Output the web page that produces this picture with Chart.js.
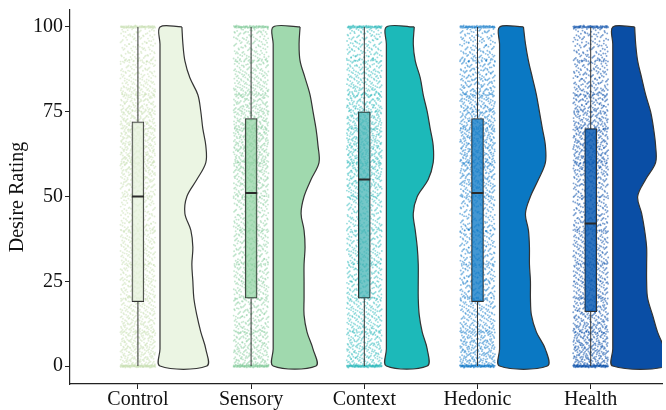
<!DOCTYPE html>
<html>
<head>
<meta charset="utf-8">
<script src="https://cdn.jsdelivr.net/npm/chart.js@4.4.0/dist/chart.umd.min.js"></script>
<style>
  html, body { margin: 0; padding: 0; background: #fff; }
  #wrap { width: 666px; height: 410px; }
</style>
</head>
<body>
<div id="wrap"><canvas id="myChart" width="666" height="410"></canvas></div>
<script>
var categories = ["Control", "Sensory", "Context", "Hedonic", "Health"];
var yTicks = [0, 25, 50, 75, 100];

// boxplot numbers
var whiskerLow = [0, 0, 0, 0, 0];
var q1 = [19, 20, 20, 19, 16];
var median = [50, 51, 55, 51, 42];
var q3 = [72, 73, 75, 73, 70];
var whiskerHigh = [100, 100, 100, 100, 100];

// half-violin width (relative density) at ratings 0, 5, 10 ... 100
var levels = [0, 5, 10, 15, 20, 25, 30, 35, 40, 45, 50, 55, 60, 65, 70, 75, 80, 85, 90, 95, 100];
var densControl = [0.94, 0.92, 0.82, 0.74, 0.68, 0.66, 0.64, 0.66, 0.62, 0.50, 0.54, 0.74, 0.92, 0.92, 0.86, 0.82, 0.76, 0.60, 0.50, 0.46, 0.44];
var densSensory = [0.86, 0.80, 0.68, 0.62, 0.62, 0.62, 0.62, 0.64, 0.62, 0.56, 0.62, 0.76, 0.92, 0.90, 0.86, 0.80, 0.74, 0.64, 0.54, 0.52, 0.54];
var densContext = [0.82, 0.82, 0.72, 0.66, 0.64, 0.64, 0.64, 0.62, 0.58, 0.54, 0.62, 0.84, 0.94, 0.94, 0.88, 0.82, 0.74, 0.68, 0.58, 0.54, 0.56];
var densHedonic = [0.96, 0.92, 0.74, 0.64, 0.62, 0.62, 0.60, 0.60, 0.58, 0.52, 0.62, 0.78, 0.92, 0.92, 0.86, 0.80, 0.74, 0.66, 0.58, 0.52, 0.48];
var densHealth = [1.10, 1.04, 0.90, 0.80, 0.70, 0.68, 0.68, 0.68, 0.64, 0.58, 0.50, 0.66, 0.86, 0.86, 0.82, 0.76, 0.66, 0.58, 0.50, 0.46, 0.44];

// ratings where the raw points pile up (slider round numbers)
var stripeValues = [0, 10, 20, 25, 30, 40, 50, 60, 70, 75, 80, 90, 100];
var stripeExtra = [80, 12, 12, 6, 12, 12, 12, 12, 12, 6, 12, 12, 60];

var densities = [densControl, densSensory, densContext, densHedonic, densHealth];
var violinColors = ['#ebf5e3', '#a0d9ae', '#1cb9b9', '#0a78c3', '#0a4ea5'];
var boxColors = ['rgba(230,242,220,0.75)', 'rgba(140,208,158,0.7)', 'rgba(70,180,182,0.75)', 'rgba(20,125,200,0.8)', 'rgba(10,90,178,0.85)'];
var pointColors = ['rgba(200,224,178,0.5)', 'rgba(125,200,148,0.45)', 'rgba(28,180,182,0.45)', 'rgba(10,118,198,0.48)', 'rgba(10,78,168,0.52)'];

var violinGap = 0.195;    // violin starts this far right of the category
var violinScale = 0.44;   // x units per unit density
var boxHalf = 0.053;
var jitterHalf = 0.155;

// van der Corput / Halton fraction, used to spread the points evenly
function halton(n, b) {
  var f = 1, r = 0;
  while (n > 0) { f = f / b; r += f * (n % b); n = Math.floor(n / b); }
  return r;
}

var datasets = [];

// half violins as closed shapes
densities.forEach(function (d, i) {
  var base = i + 1 + violinGap;
  var pts = [];
  for (var k = d.length - 1; k >= 0; k--) pts.push({ x: base + d[k] * violinScale, y: levels[k] });
  for (var k = 0; k < d.length; k++) pts.push({ x: base, y: levels[k] });
  pts.push({ x: base + d[d.length - 1] * violinScale, y: levels[d.length - 1] });
  datasets.push({
    type: 'line',
    data: pts,
    borderColor: '#333',
    borderWidth: 1.2,
    backgroundColor: violinColors[i],
    fill: 'shape',
    tension: 0.35,
    pointRadius: 0,
    order: 4
  });
});

// raw ratings cloud, counts follow the violin densities, spread sideways
densities.forEach(function (d, i) {
  var c = i + 1, n = 17 + i * 1500, pts = [];
  function add(y, ySpread) {
    n++;
    var jx = (halton(n, 2) - 0.5) * 2 * jitterHalf;
    var jy = (halton(n, 3) - 0.5) * ySpread;
    pts.push({ x: c + jx, y: y + jy });
  }
  for (var r = 0; r <= 100; r++) {
    var cnt = Math.round(d[Math.round(r / 5)] * 24);
    for (var j = 0; j < cnt; j++) add(r, 1);
  }
  stripeValues.forEach(function (v, s) {
    for (var j = 0; j < stripeExtra[s]; j++) add(v, 0.6);
  });
  datasets.push({
    type: 'scatter',
    data: pts,
    backgroundColor: pointColors[i],
    borderWidth: 0,
    pointRadius: 0.95,
    order: 3
  });
});

// whiskers
var whiskerPts = [];
categories.forEach(function (c, i) {
  whiskerPts.push({ x: i + 1, y: whiskerLow[i] }, { x: i + 1, y: q1[i] }, { x: i + 1, y: null });
  whiskerPts.push({ x: i + 1, y: q3[i] }, { x: i + 1, y: whiskerHigh[i] }, { x: i + 1, y: null });
});
datasets.push({
  type: 'line',
  data: whiskerPts,
  borderColor: '#333',
  borderWidth: 1,
  pointRadius: 0,
  fill: false,
  order: 2
});

// boxes
datasets.push({
  type: 'bar',
  data: categories.map(function (c, i) { return { x: i + 1, y: [q1[i], q3[i]] }; }),
  backgroundColor: boxColors,
  borderColor: '#333',
  borderWidth: 1,
  borderSkipped: false,
  barThickness: 12,
  grouped: false,
  order: 1
});

// medians
var medianPts = [];
categories.forEach(function (c, i) {
  medianPts.push({ x: i + 1 - boxHalf, y: median[i] }, { x: i + 1 + boxHalf, y: median[i] }, { x: i + 1, y: null });
});
datasets.push({
  type: 'line',
  data: medianPts,
  borderColor: '#2a2a2a',
  borderWidth: 2,
  pointRadius: 0,
  fill: false,
  order: 0
});

var font = { family: "'Liberation Serif', 'DejaVu Serif', serif", size: 20 };

var ctx = document.getElementById("myChart").getContext("2d");
var myChart = new Chart(ctx, {
  type: 'line',
  data: { datasets: datasets },
  options: {
    responsive: false,
    animation: false,
    events: [],
    layout: { padding: { top: 0, right: 0, left: 0, bottom: 0 } },
    plugins: { legend: { display: false }, tooltip: { enabled: false } },
    scales: {
      x: {
        type: 'linear',
        offset: false,
        min: 0.4,
        max: 5.63,
        afterBuildTicks: function (s) { s.ticks = categories.map(function (c, i) { return { value: i + 1 }; }); },
        afterFit: function (s) { s.height = 26; },
        grid: { display: true, offset: false, drawOnChartArea: false, tickLength: 5, color: '#222', tickWidth: 1 },
        border: { display: true, color: '#222', width: 1.2 },
        ticks: {
          autoSkip: false, maxRotation: 0, padding: -1, color: '#111',
          font: font,
          callback: function (v) { return categories[v - 1]; }
        }
      },
      y: {
        type: 'linear',
        min: -5.3,
        max: 105,
        afterBuildTicks: function (s) { s.ticks = yTicks.map(function (v) { return { value: v }; }); },
        afterFit: function (s) { s.width = 70; },
        grid: { display: true, drawOnChartArea: false, tickLength: 5, color: '#222', tickWidth: 1 },
        border: { display: true, color: '#222', width: 1.2 },
        ticks: { padding: 2, color: '#111', font: { family: font.family, size: 20, lineHeight: 0.8 } },
        title: { display: true, text: 'Desire Rating', color: '#111', font: font, padding: { top: 6, bottom: 0 } }
      }
    }
  }
});
</script>
</body>
</html>
